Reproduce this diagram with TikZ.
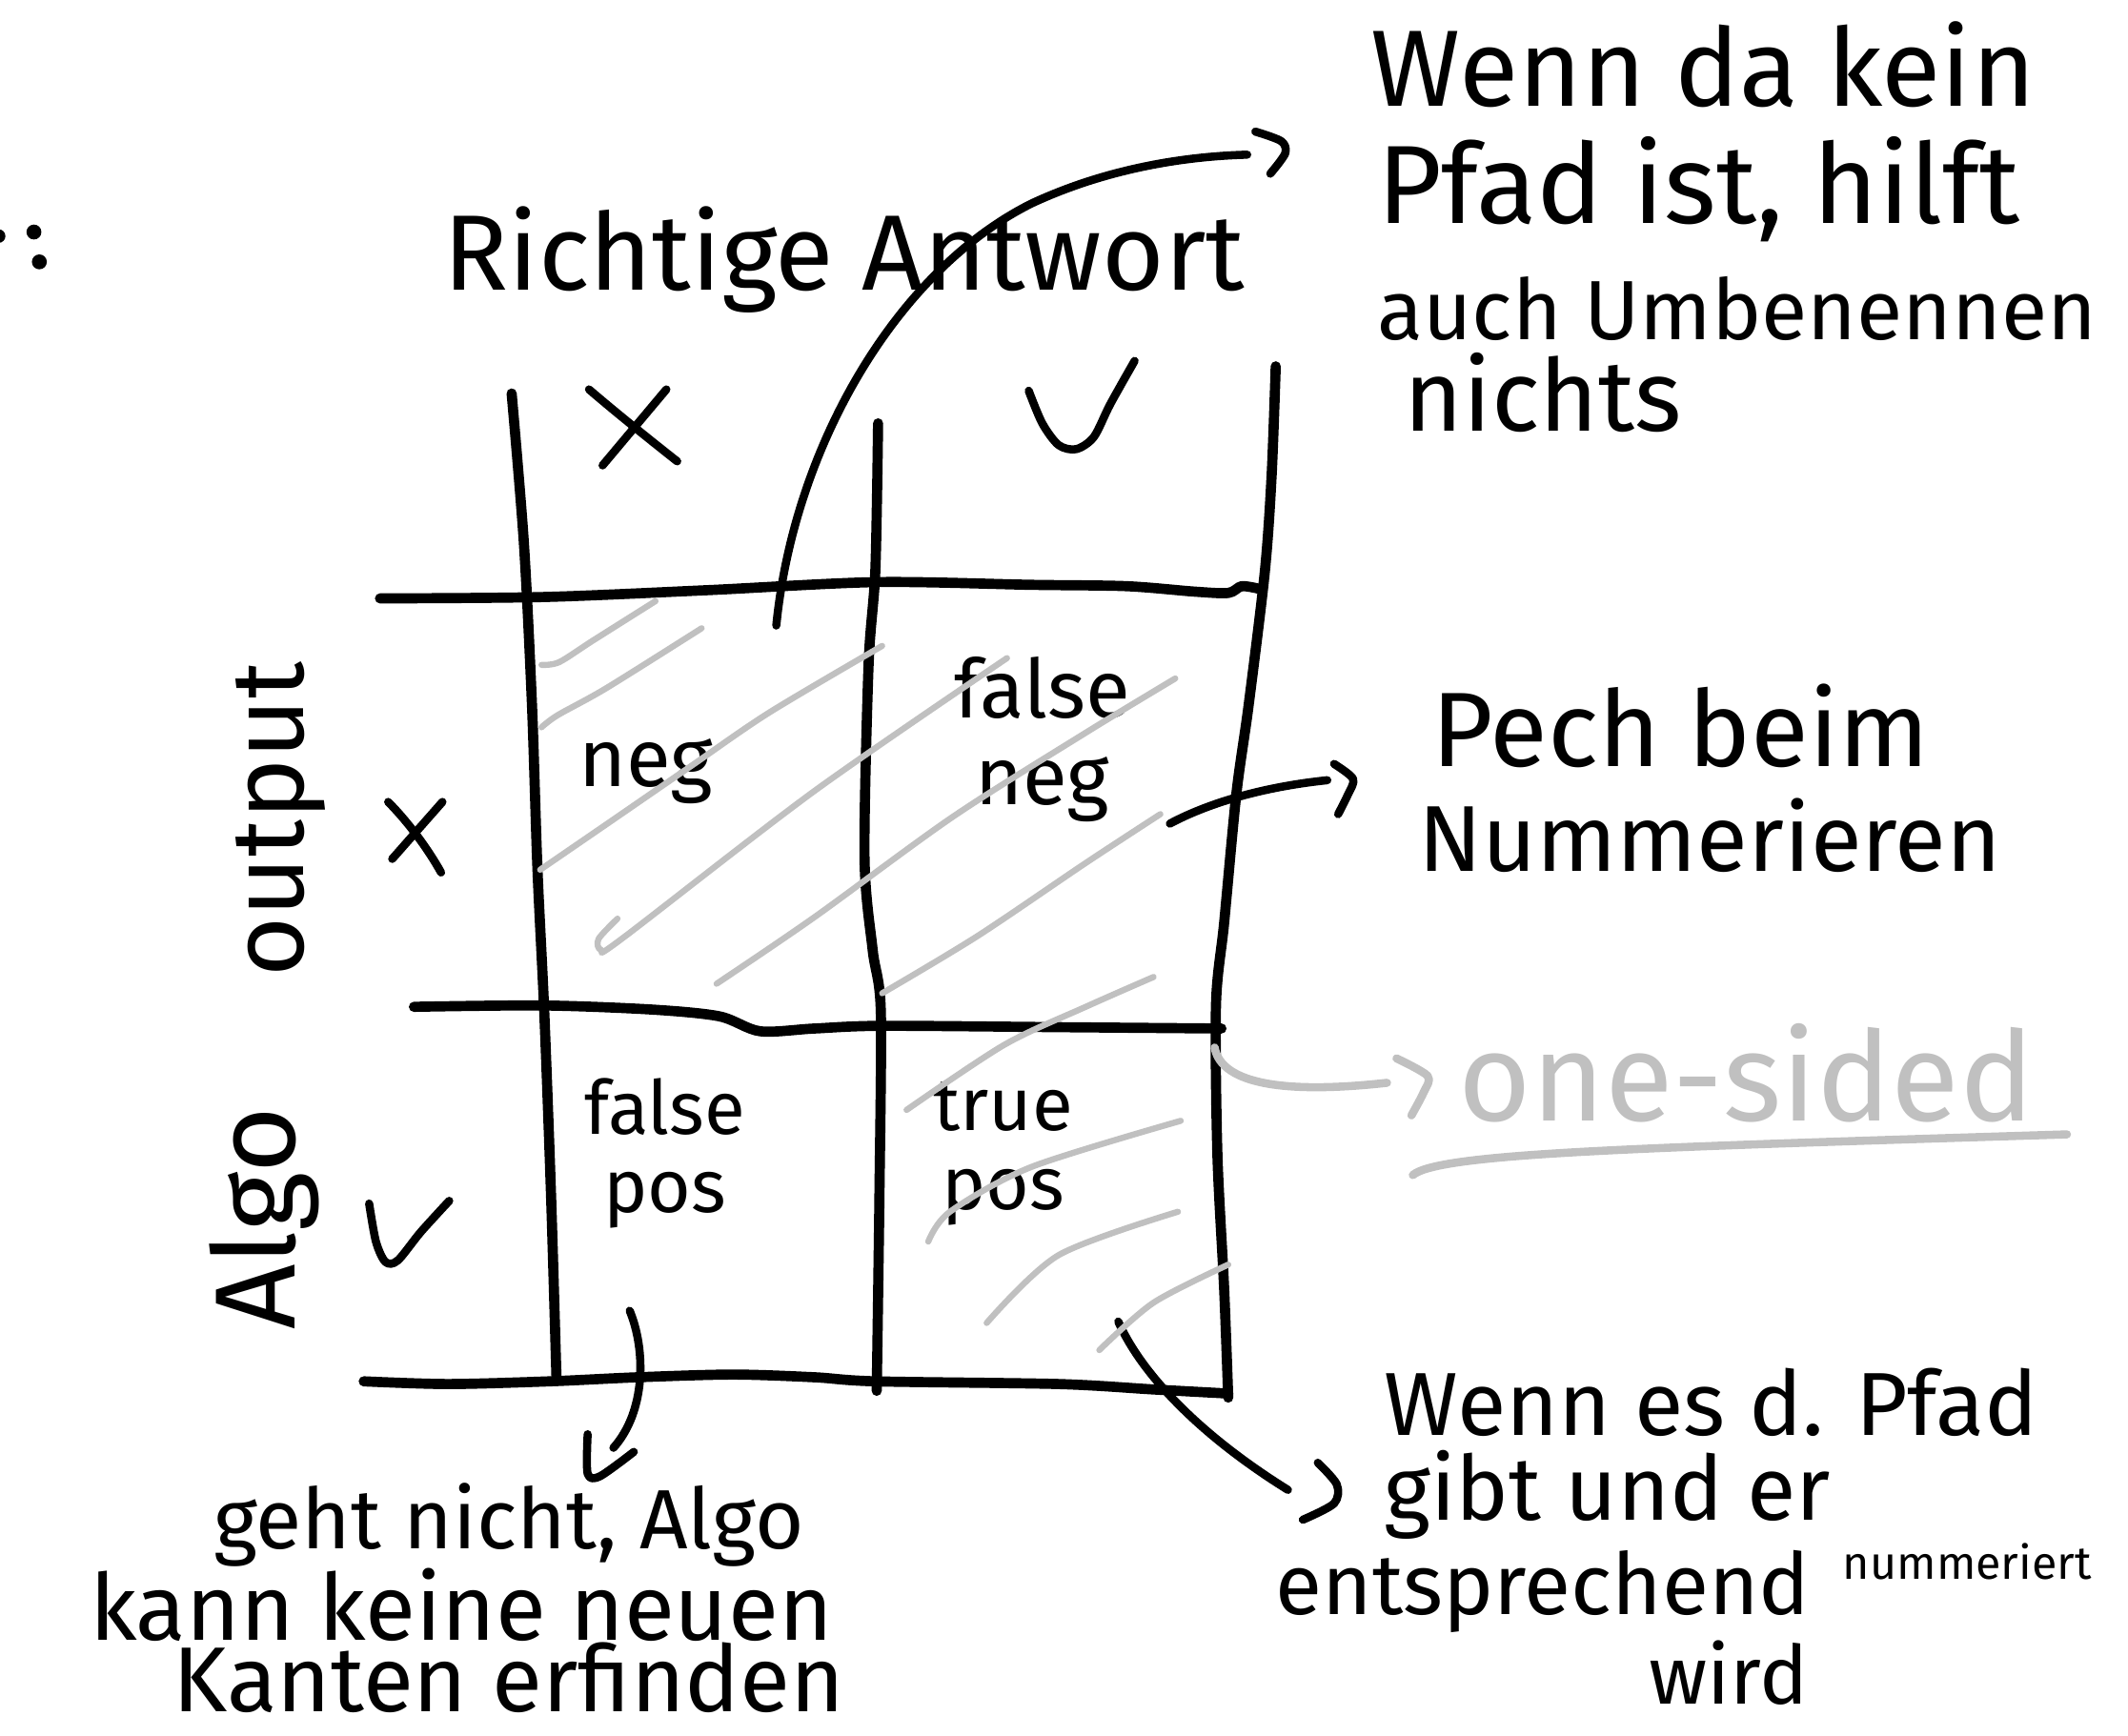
\documentclass[tikz,border=0pt]{standalone}
\usepackage{fontspec}
\setmainfont{Fira Sans}
\definecolor{hatchgray}{HTML}{C0C0C0}
\tikzset{
  gridline/.style={line width=7.5pt, line cap=round, line join=round},
  pen/.style={line width=6pt, line cap=round, line join=round},
  hatch/.style={line width=4.5pt, line cap=round, line join=round, draw=hatchgray},
  hw/.style={font=\fontseries{m}\fontsize{#1}{#1}\selectfont, inner sep=0pt, outer sep=0pt},
  celltext/.style={align=center, inner sep=0pt, outer sep=0pt},
}
\begin{document}
\begin{tikzpicture}[x=1pt,y=-1pt]
\useasboundingbox (0,0) rectangle (1568,1279);

% dots at the left edge
\fill (-1,174) circle[radius=5pt];
\fill (25,171) circle[radius=5.5pt];
\fill (29,193) circle[radius=5.5pt];

% title
\node[hw=79, anchor=base] (title) at (622,214) {Richtige Antwort};

% grid
\draw[gridline] plot[smooth] coordinates {(377,290) (386,400) (392,520) (396,640) (401,745) (406,880) (410,1015)};
\draw[gridline] plot[smooth] coordinates {(647,312) (645,420) (640,490) (637,632) (643,700) (649,745) (648,880) (646,1025)};
\draw[gridline] plot[smooth] coordinates {(940,270) (937,350) (932,421) (920,520) (911,585) (902,680) (896,740) (897,850) (902,950) (905,1030)};
\draw[gridline] plot[smooth] coordinates {(280,441) (400,440) (520,435) (646,429) (760,431) (830,432) (880,436) (905,437) (915,432) (928,434)};
\draw[gridline] plot[smooth] coordinates {(305,742) (400,741) (480,744) (530,749) (560,760) (600,758) (650,756) (780,757) (900,758)};
\draw[gridline] plot[smooth] coordinates {(268,1018) (330,1020) (405,1018) (470,1015) (540,1013) (600,1015) (645,1018) (780,1020) (850,1024) (905,1027)};

% column header marks
\draw[pen] (434,287) .. controls (455,305) and (480,325) .. (499,340);
\draw[pen] (491,287) -- (444,343);
\draw[pen] plot[smooth] coordinates {(758,288) (768,312) (780,328) (793,331) (806,322) (818,298) (836,266)};

% row header marks
\draw[pen] (286,591) .. controls (300,605) and (315,625) .. (325,643);
\draw[pen] (326,591) -- (289,633);
\draw[pen] plot[smooth] coordinates {(272,887) (277,915) (284,930) (293,929) (310,908) (331,885)};

% row labels
\node[hw=76, rotate=90] (lout) at (207,604) {output};
\node[hw=84, rotate=90] (lalgo) at (195,898) {Algo};

% cell texts
\node[hw=60, anchor=base] (c11) at (476,580) {neg};
\node[celltext, font=\fontsize{60}{64}\selectfont] (c12) at (768,545) {false\\neg};
\node[celltext, font=\fontsize{55}{58}\selectfont] (c21) at (490,850) {false\\pos};
\node[celltext, font=\fontsize{55}{58}\selectfont] (c22) at (739,850) {true\\pos};

% note top right
\node[hw=80, anchor=base west] (n1a) at (1010,78) {Wenn da kein};
\node[hw=82, anchor=base west] (n1b) at (1015,165) {Pfad ist, hilft};
\node[hw=62, anchor=base west] (n1c) at (1015,250) {auch Umbenennen};
\node[hw=74, anchor=base west] (n1d) at (1035,318) {nichts};

% note Pech
\node[hw=78, anchor=base west] (n2a) at (1055,565) {Pech beim};
\node[hw=69, anchor=base west] (n2b) at (1045,642) {Nummerieren};

% one-sided
\node[hw=92, anchor=base west, text=hatchgray] (n3) at (1075,826) {one-sided};

% note bottom left
\node[celltext, anchor=north] (n4) at (375,1093)
  {\fontsize{62}{62}\selectfont geht nicht, Algo\\
   \fontsize{68}{62}\selectfont kann keine neuen\hspace*{70pt}\null\\
   \fontsize{68}{60}\selectfont Kanten erfinden};

% note bottom right
\node[hw=66, anchor=base west] (n5a) at (1020,1058) {Wenn es d. Pfad};
\node[hw=66, anchor=base west] (n5b) at (1020,1120) {gibt und er};
\node[hw=63, anchor=base west] (n5c) at (940,1190) {entsprechend};
\node[hw=34, anchor=base west] (n5d) at (1358,1164) {nummeriert};
\node[hw=60, anchor=base west] (n5e) at (1215,1256) {wird};

% connectors
\coordinate (a1s) at (572,461);
\coordinate (a1e) at (919,114);
\draw[pen] (a1s) .. controls (585,330) and (660,200) .. (760,150) .. controls (820,122) and (880,115) .. (a1e);
\draw[pen] plot[smooth] coordinates {(925,97) (944,104) (947,113) (936,128)};

\coordinate (a2s) at (862,607);
\coordinate (a2e) at (978,575);
\draw[pen] (a2s) .. controls (890,592) and (930,580) .. (a2e);
\draw[pen] plot[smooth] coordinates {(983,563) (997,574) (993,586) (986,600)};

\coordinate (a3s) at (895,772);
\coordinate (a3e) at (1022,798);
\draw[pen, draw=hatchgray] (a3s) .. controls (900,800) and (950,806) .. (a3e);
\draw[pen, draw=hatchgray] plot[smooth] coordinates {(1029,780) (1052,793) (1049,805) (1040,822)};
\draw[pen, draw=hatchgray] (1041,866) .. controls (1060,850) and (1200,846) .. (1523,836);

\coordinate (a4s) at (464,966);
\coordinate (a4e) at (452,1067);
\draw[pen] (a4s) .. controls (476,995) and (476,1040) .. (a4e);
\draw[pen] plot[smooth] coordinates {(433,1057) (433,1086) (442,1088) (467,1070)};

\coordinate (a5s) at (824,974);
\coordinate (a5e) at (949,1098);
\draw[pen] (a5s) .. controls (840,1010) and (880,1055) .. (a5e);
\draw[pen] plot[smooth] coordinates {(971,1078) (985,1094) (983,1108) (960,1120)};

% hatching
\draw[hatch] plot[smooth] coordinates {(399,490) (412,488) (437,472) (483,443)};
\draw[hatch] plot[smooth] coordinates {(399,536) (411,527) (447,507) (517,463)};
\draw[hatch] plot[smooth] coordinates {(398,641) (449,606) (510,564) (567,525) (650,476)};
\draw[hatch] plot[smooth] coordinates {(455,677) (441,692) (443,700) (458,692) (600,583) (742,485)};
\draw[hatch] plot[smooth] coordinates {(528,725) (600,676) (702,602) (800,540) (866,500)};
\draw[hatch] plot[smooth] coordinates {(650,732) (720,690) (800,636) (855,600)};
\draw[hatch] plot[smooth] coordinates {(668,818) (740,770) (800,742) (850,720)};
\draw[hatch] plot[smooth] coordinates {(684,915) (700,893) (760,860) (870,826)};
\draw[hatch] plot[smooth] coordinates {(727,975) (780,925) (868,893)};
\draw[hatch] plot[smooth] coordinates {(810,995) (850,960) (905,932)};
\end{tikzpicture}
\end{document}
